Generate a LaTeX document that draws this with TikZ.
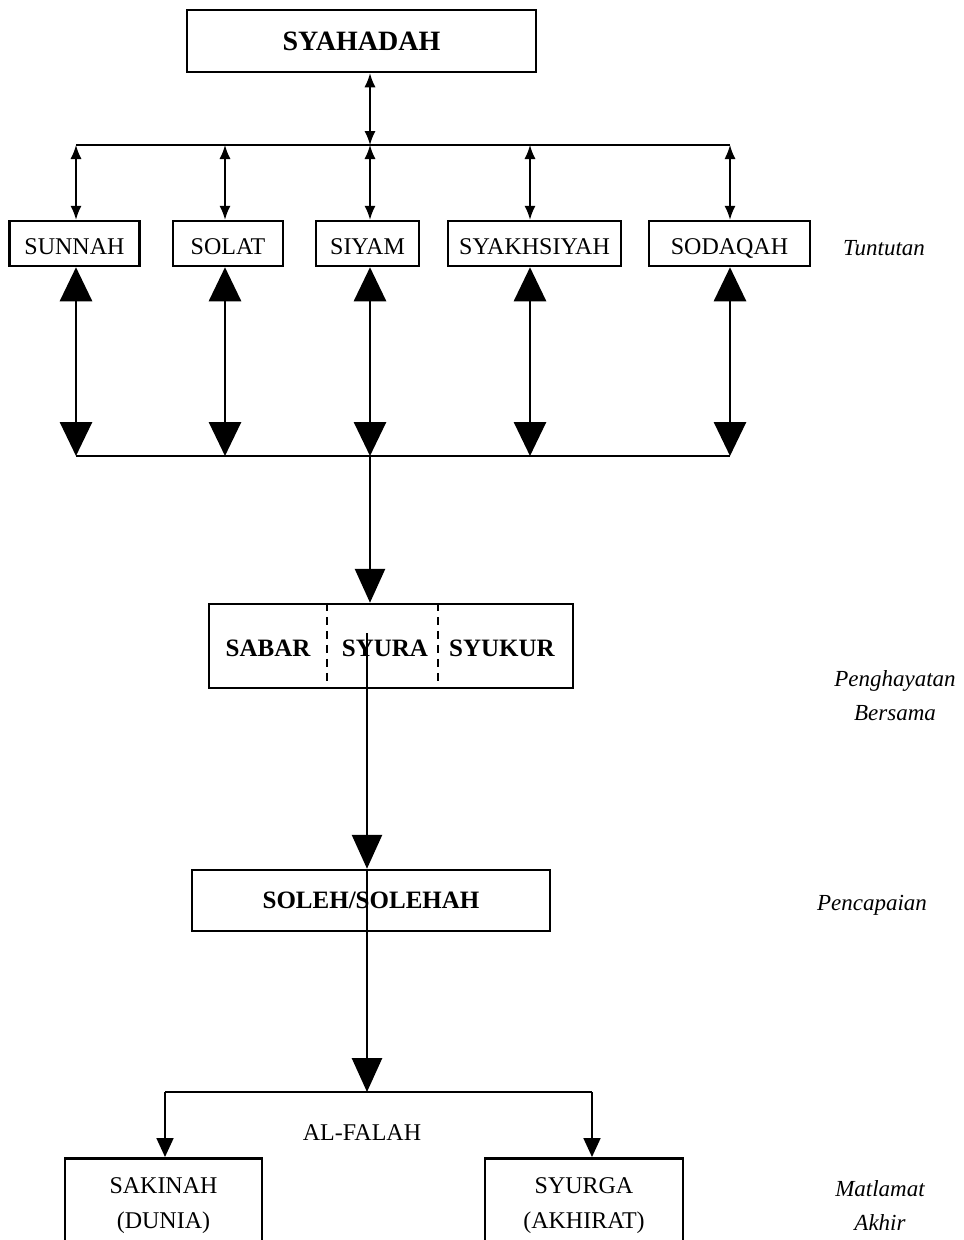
\documentclass[tikz,border=0pt]{standalone}
\usepackage{fontspec}
\setmainfont{Liberation Serif}
\usetikzlibrary{arrows.meta}

\begin{document}
\begin{tikzpicture}[x=1pt,y=-1pt,
    box/.style={draw,line width=2.5pt,inner sep=0pt,font=\fontsize{24}{35}\selectfont,align=center},
    rowbox/.style={box,minimum height=45pt,text height=24pt,text depth=3pt},
    boldbox/.style={box,font=\fontsize{25}{30}\selectfont\bfseries},
    tag/.style={font=\fontsize{23}{34}\selectfont\itshape,align=center},
    rail/.style={line width=2.5pt},
    divider/.style={line width=1.6pt,dash pattern=on 8pt off 6pt},
    thinlink/.style={line width=1.4pt,{Latex[length=14pt,width=11pt]}-{Latex[length=14pt,width=11pt]}},
    thicklink/.style={line width=2.8pt,{Triangle[length=34pt,width=32pt]}-{Triangle[length=34pt,width=32pt]}},
    down/.style={line width=2.8pt,-{Triangle[length=34pt,width=30pt]}},
    smalldown/.style={line width=1.8pt,-{Triangle[length=19pt,width=17pt]}}]
  \useasboundingbox (0,0) rectangle (964,1240);

  \node[boldbox,minimum width=349pt,minimum height=62pt,font=\fontsize{28}{32}\selectfont\bfseries]
    (syahadah) at (361.5,41) {SYAHADAH};

  \node[rowbox,minimum width=130pt] (sunnah) at (74.5,243.5) {SUNNAH};
  \node[rowbox,minimum width=110pt] (solat) at (228,243.5) {SOLAT};
  \node[rowbox,minimum width=103pt] (siyam) at (367.5,243.5) {SIYAM};
  \node[rowbox,minimum width=173pt] (syakhsiyah) at (534.5,243.5) {SYAKHSIYAH};
  \node[rowbox,minimum width=161pt] (sodaqah) at (729.5,243.5) {SODAQAH};
  \node[tag] (tuntutan) at (884,248) {Tuntutan};

  \foreach \k/\x in {1/76,2/225,3/370,4/530,5/730} {
    \coordinate (r\k) at (\x,145);
    \coordinate (b\k) at (\x,456);
  }
  \draw[rail] (r1) -- (r5);
  \draw[rail] (b1) -- (b5);
  \draw[thinlink] (syahadah.south -| r3) -- (r3);
  \foreach \n/\k in {sunnah/1,solat/2,siyam/3,syakhsiyah/4,sodaqah/5} {
    \draw[thinlink] (r\k) -- (r\k |- \n.north);
    \draw[thicklink] (b\k |- \n.south) -- (b\k);
  }

  \node[box,minimum width=364pt,minimum height=84pt] (hayat) at (391,646) {};
  \draw[divider] ([xshift=119pt]hayat.north west) -- ([xshift=119pt]hayat.south west);
  \draw[divider] ([xshift=230pt]hayat.north west) -- ([xshift=230pt]hayat.south west);
  \node[font=\fontsize{25}{30}\selectfont\bfseries] (sabar) at (268,648) {SABAR};
  \node[font=\fontsize{25}{30}\selectfont\bfseries] (syura) at (385,648) {SYURA};
  \node[font=\fontsize{25}{30}\selectfont\bfseries] (syukur) at (502,648) {SYUKUR};
  \node[tag] (penghayatan) at (895,696) {Penghayatan\\Bersama};
  \draw[down] (b3) -- (b3 |- hayat.north);

  \node[boldbox,minimum width=358pt,minimum height=61pt] (soleh) at (371,900.5) {SOLEH/SOLEHAH};
  \node[tag] (pencapaian) at (872,905) {Pencapaian};
  \coordinate (s1) at (367,633);
  \coordinate (fork) at (367,1092);
  \draw[down] (s1) -- (s1 |- soleh.north);
  \draw[down] (s1 |- soleh.north) -- (fork);

  \coordinate (fl) at (165,1092);
  \coordinate (fr) at (592,1092);
  \draw[rail] (fl) -- (fr);
  \node[box,anchor=north,minimum width=197pt,minimum height=94pt] (sakinah) at (163.5,1157) {SAKINAH\\(DUNIA)};
  \node[box,anchor=north,minimum width=198pt,minimum height=94pt] (syurga) at (584,1157) {SYURGA\\(AKHIRAT)};
  \node[font=\fontsize{24}{28}\selectfont] (falah) at (362,1133) {AL-FALAH};
  \node[tag] (matlamat) at (880,1206) {Matlamat\\Akhir};
  \draw[smalldown] (fl) -- (fl |- sakinah.north);
  \draw[smalldown] (fr) -- (fr |- syurga.north);
\end{tikzpicture}
\end{document}
